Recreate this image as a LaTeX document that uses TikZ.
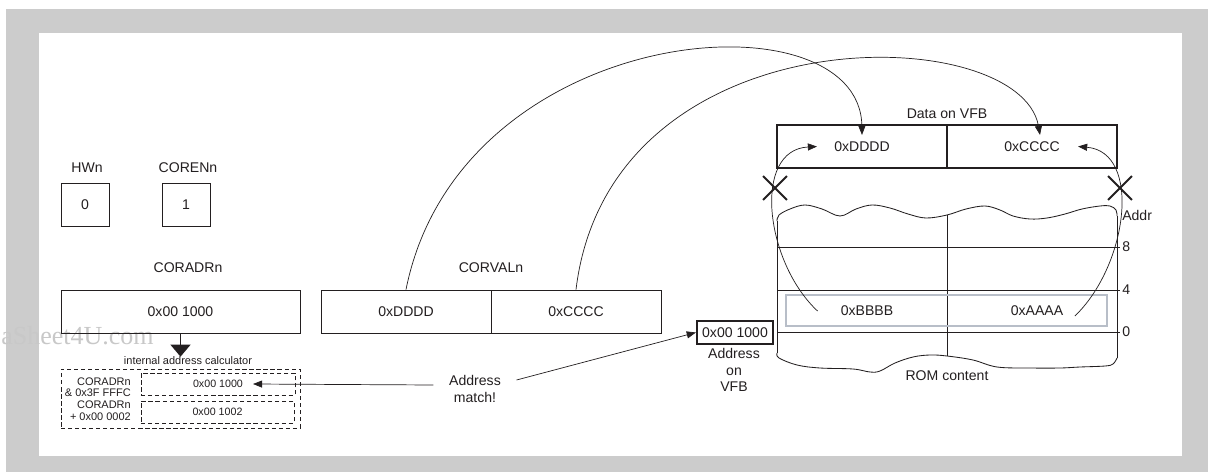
\documentclass[tikz,border=0pt]{standalone}
\usepackage{fontspec}
\setmainfont{Liberation Sans}
\newfontfamily\wmfont{Liberation Serif}
\usetikzlibrary{arrows.meta,shapes.misc}
\definecolor{ink}{RGB}{35,31,32}
\definecolor{framegray}{RGB}{204,204,204}
\definecolor{rowgray}{RGB}{184,190,200}
\definecolor{wmgray}{RGB}{200,200,200}

\tikzset{
  cell/.style={draw=ink, line width=0.6pt, minimum height=1.075cm, inner sep=0pt,
    text=ink, font=\fontsize{10}{12}\selectfont},
  vfbcell/.style={cell, line width=1.5pt},
  lbl/.style={text=ink, font=\fontsize{10}{11.5}\selectfont, inner sep=1pt, align=center},
  small/.style={text=ink, font=\fontsize{7.8}{8}\selectfont, inner sep=0pt},
  calc/.style={draw=ink, line width=0.6pt, dash pattern=on 3pt off 2pt,
    minimum height=0.55cm, inner sep=0pt, text=ink, font=\fontsize{7.6}{9}\selectfont},
  arr/.style={draw=ink, line width=0.5pt, -{Triangle[length=6.5pt,width=5pt]}},
  romline/.style={draw=ink, line width=0.6pt},
  xmark/.style={draw=ink, cross out, line width=1.3pt, minimum size=0.55cm, inner sep=0pt},
}

\begin{document}
\begin{tikzpicture}[x=0.025cm, y=-0.025cm]
  \useasboundingbox (0,0) rectangle (1208,472);
  % frame
  \fill[framegray] (6,9) rectangle (1208,472);
  \fill[white] (39,33) rectangle (1182,456);
  \node[anchor=base west, text=wmgray, inner sep=0pt,
    font=\wmfont\fontsize{18.5}{18.5}\selectfont] (wmark) at (1,344) {aSheet4U.com};

  % registers
  \node[lbl] (hwlbl) at (87,168) {HWn};
  \node[cell, minimum width=1.2cm] (hw) at (85,204.5) {0};
  \node[lbl] (corenlbl) at (188,168) {CORENn};
  \node[cell, minimum width=1.2cm] (coren) at (186,204.5) {1};
  \node[lbl] (coradrlbl) at (188,268) {CORADRn};
  \node[cell, minimum width=5.975cm] (coradr) at (180.5,311.5) {0x00 1000};
  \node[lbl] (corvallbl) at (491,268) {CORVALn};
  \node[cell, minimum width=4.25cm] (valD) at (406,311.5) {0xDDDD};
  \node[cell, minimum width=4.25cm] (valC) at (576,311.5) {0xCCCC};

  % internal address calculator
  \node[small] (calclbl) at (188,361) {internal address calculator};
  \draw[ink, line width=1.4pt, -{Triangle[length=8.5pt,width=14pt]}] (coradr.south) -- (coradr.south |- calclbl.north);
  \node[calc, minimum width=5.975cm, minimum height=1.475cm] (calcbox) at (180.5,398.5) {};
  \node[calc, minimum width=3.85cm] (calcA) at (218,384) {0x00 1000};
  \node[calc, minimum width=3.825cm] (calcB) at (217.5,412) {0x00 1002};
  \node[small, anchor=east, align=right] (maskA) at (131,387) {CORADRn\\\& 0x3F FFFC};
  \node[small, anchor=east, align=right, font=\fontsize{7.8}{8.6}\selectfont] (maskB) at (131,411) {CORADRn\\+ 0x00 0002};

  % address match
  \node[lbl, inner xsep=11pt] (match) at (475,389) {Address\\match!};
  \node[cell, vfbcell, line width=1.6pt, minimum width=1.9cm, minimum height=0.575cm] (vfbaddr) at (735,332.5) {0x00 1000};
  \node[lbl] (vfblbl) at (734,370) {Address\\on\\VFB};
  \draw[arr] ([yshift=0.1cm]match.west) -- ([xshift=0.875cm]calcA.center);
  \draw[arr] ([yshift=0.225cm]match.east) -- (vfbaddr.west);

  % data on VFB
  \node[lbl] (datalbl) at (947,114) {Data on VFB};
  \node[cell, vfbcell, minimum width=4.25cm] (vfbD) at (862,146.5) {0xDDDD};
  \node[cell, vfbcell, minimum width=4.25cm] (vfbC) at (1032,146.5) {0xCCCC};

  % ROM content
  \draw[romline] plot[smooth, tension=0.6] coordinates {(777,221) (779,215) (790,209)
    (805,205) (822,209) (840,216) (856,209) (872,205) (890,208) (908,214) (926,218)
    (947,215) (966,209) (985,206) (1000,210) (1013,216) (1030,219) (1047,218) (1065,214)
    (1082,209) (1100,206) (1110,206) (1116,210) (1117,216)};
  \draw[romline] plot[smooth, tension=0.6] coordinates {(777,353) (779,358) (797,365)
    (820,368) (853,369) (870,372) (880,371) (895,363) (913,357) (930,355) (947,356)
    (973,360) (997,367) (1030,368) (1060,368) (1080,367) (1105,366) (1113,364) (1117,358)};
  \draw[romline] (777,221) -- (777,353);
  \draw[romline] (1117,216) -- (1117,358);
  \draw[romline] (947,215) -- (947,356);
  \foreach \yy/\nr in {247/8, 290/4, 332/0} {
    \draw[romline] (777,\yy) -- (1120,\yy);
    \node[lbl, anchor=west, inner sep=0pt] (addr\nr) at (1122,\yy) {\nr};
  }
  \node[lbl, anchor=west, inner sep=0pt] (addrlbl) at (1122,215) {Addr};
  \draw[rowgray, line width=1pt] (786,295) rectangle (1107,326);
  \node[lbl] (romB) at (867,311) {0xBBBB};
  \node[lbl] (romA) at (1037,311) {0xAAAA};
  \node[lbl] (romlbl) at (947,376) {ROM content};

  % blocked reads
  \node[xmark] (xl) at (775,188) {};
  \node[xmark] (xr) at (1120,188) {};
  \draw[arr] ([xshift=-0.54cm]romB.west) .. controls (765,262) and (752,150) .. ([xshift=-1.125cm]vfbD.center);
  \draw[arr] ([xshift=0.25cm,yshift=-0.125cm]romA.east) .. controls (1128,265) and (1142,152) .. ([xshift=1.15cm]vfbC.center);

  % data forwarded from CORVALn
  \draw[arr] (valD.north) .. controls (460,20) and (860,-10) .. ([yshift=-0.275cm]vfbD.north);
  \draw[arr] (valC.north) .. controls (610,10) and (1020,20) .. ([xshift=0.2cm,yshift=-0.275cm]vfbC.north);
\end{tikzpicture}
\end{document}
